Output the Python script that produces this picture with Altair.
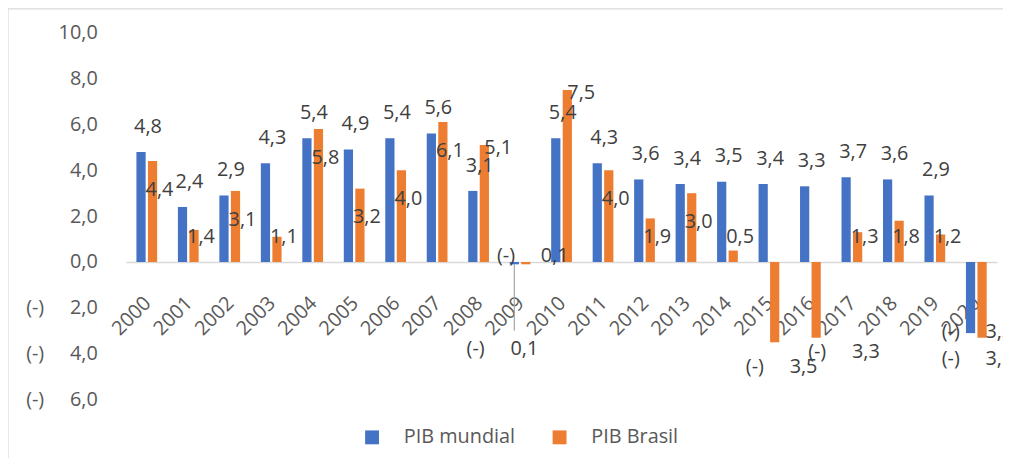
import altair as alt
import pandas as pd

anos = [str(a) for a in range(2000, 2021)]
pib_mundial = [4.8, 2.4, 2.9, 4.3, 5.4, 4.9, 5.4, 5.6, 3.1, -0.1, 5.4, 4.3, 3.6, 3.4, 3.5, 3.4, 3.3, 3.7, 3.6, 2.9, -3.1]
pib_brasil = [4.4, 1.4, 3.1, 1.1, 5.8, 3.2, 4.0, 6.1, 5.1, -0.1, 7.5, 4.0, 1.9, 3.0, 0.5, -3.5, -3.3, 1.3, 1.8, 1.2, -3.3]
series = ["PIB mundial", "PIB Brasil"]
cores = ["#4472C4", "#ED7D31"]
y_ticks = [-6, -4, -2, 0, 2, 4, 6, 8, 10]

rows = []
for i, a in enumerate(anos):
    prev_b = pib_brasil[i - 1] if i > 0 else 0
    rows.append({"ano": a, "serie": series[0], "valor": pib_mundial[i],
                 "mundial": pib_mundial[i], "prev": prev_b})
    rows.append({"ano": a, "serie": series[1], "valor": pib_brasil[i],
                 "mundial": pib_mundial[i], "prev": prev_b})
df = pd.DataFrame(rows)

NB = "\u00a0" * 5
fmt_val = "replace(format(abs({v}), '.1f'), '.', ',')"
label_expr = ("datum.value < 0 ? '(-)" + NB + "' + " + fmt_val.format(v="datum.value")
              + " : " + fmt_val.format(v="datum.value"))
text_expr = ("datum.valor < 0 ? '(-)" + NB + "' + " + fmt_val.format(v="datum.valor")
             + " : " + fmt_val.format(v="datum.valor"))

# label placement rules (Excel-like collision avoidance), derived from the values
grp_expr = ("datum.serie == 'PIB mundial' ? (abs(datum.valor) < 0.5 ? 'lead' : 'n') : "
            "(abs(datum.valor) < 0.5 ? 'n' : "
            "(datum.valor < 0 && datum.mundial < 0 ? 'stack' : "
            "(datum.valor < 0 && datum.prev < 0 ? 'shift' : "
            "(datum.valor >= datum.mundial + 1.5 ? 'top' : 'n'))))")
ly_expr = ("datum.grp == 'lead' ? datum.valor - 3.7 : "
           "datum.grp == 'stack' ? datum.mundial + 0.05 : "
           "datum.grp == 'shift' ? datum.valor - 0.63 : "
           "datum.grp == 'top' ? datum.valor - 0.15 : "
           "datum.serie == 'PIB mundial' ? (datum.valor >= 0 ? datum.valor + 1.1 : datum.valor - 1.15) : "
           "(abs(datum.valor) < 0.5 ? datum.valor + 0.37 : "
           "(datum.valor < 0 ? datum.valor - 1.1 : max(datum.valor - 1.25, 1.08)))")
so_expr = "datum.grp == 'stack' ? 'PIB mundial' : datum.serie"

font = "Open Sans"
x_axis = alt.Axis(title=None, labelAngle=-45, offset=-138.75, ticks=False, labelPadding=31,
                  labelOffset=-6, domainColor="#d9d9d9", domainWidth=1.5, labelFontSize=20,
                  labelColor="#595959", labelFont=font)
y_axis = alt.Axis(title=None, values=y_ticks, labelExpr=label_expr, domain=False, ticks=False,
                  grid=False, labelPadding=29, labelFontSize=20, labelColor="#595959",
                  labelFont=font)
x_scale = alt.Scale(paddingInner=0.5, paddingOuter=0.25)
xo_scale = alt.Scale(domain=series, paddingInner=0.2)
y_scale = alt.Scale(domain=[-6, 10], nice=False, zero=True)

base = alt.Chart(df)
bars = base.mark_bar().encode(
    x=alt.X("ano:N", sort=anos, scale=x_scale, axis=x_axis),
    xOffset=alt.XOffset("serie:N", sort=series, scale=xo_scale),
    y=alt.Y("valor:Q", scale=y_scale, axis=y_axis),
    color=alt.Color("serie:N", sort=series, scale=alt.Scale(domain=series, range=cores),
                    legend=alt.Legend(orient="none", legendX=238, legendY=398,
                                      direction="horizontal", title=None,
                                      symbolType="square", symbolSize=196,
                                      symbolStrokeWidth=0, labelFontSize=20,
                                      labelColor="#595959", labelFont=font,
                                      labelOffset=22, columnPadding=34)),
)

lab_base = base.transform_calculate(grp=grp_expr).transform_calculate(
    ly=ly_expr, lt=text_expr, so=so_expr)
enc = dict(
    x=alt.X("ano:N", sort=anos, scale=x_scale, axis=x_axis),
    xOffset=alt.XOffset("so:N", sort=series, scale=xo_scale),
    y=alt.Y("ly:Q", scale=y_scale, axis=y_axis),
    text="lt:N",
)


def label_layer(groups, dx):
    cond = " || ".join("datum.grp == '%s'" % g for g in groups)
    return lab_base.transform_filter(cond).mark_text(
        fontSize=20, color="#404040", dx=dx, baseline="middle", font=font).encode(**enc)


labels_n = label_layer(["n", "stack"], 7)
labels_top = label_layer(["top"], 14)
labels_shift = label_layer(["shift"], 28)
labels_lead = label_layer(["lead"], -12)

leader = lab_base.transform_filter("datum.grp == 'lead'").mark_rule(
    color="#a6a6a6", strokeWidth=1.2).encode(
    x=alt.X("ano:N", sort=anos, scale=x_scale, axis=x_axis),
    xOffset=alt.XOffset("serie:N", sort=series, scale=xo_scale),
    y=alt.Y("valor:Q", scale=y_scale, axis=y_axis),
    y2=alt.Y2("lead_end:Q"),
).transform_calculate(lead_end="datum.ly + 0.8")

frame_df = pd.DataFrame({"k": [0]})
top_border = alt.Chart(frame_df).mark_rule(color="#d9d9d9", strokeWidth=1.2).encode(
    x=alt.value(-119), x2=alt.value(884), y=alt.value(-24))
left_border = alt.Chart(frame_df).mark_rule(color="#d9d9d9", strokeWidth=1.2).encode(
    x=alt.value(-119), y=alt.value(-24), y2=alt.value(430))

chart = alt.layer(top_border, left_border, leader, bars, labels_n, labels_top,
                  labels_shift, labels_lead).properties(
    width=878, height=370,
    autosize=alt.AutoSizeParams(type="none"),
    padding={"left": 119, "top": 23, "right": 6, "bottom": 57},
).configure(font=font).configure_view(stroke=None)

chart.save("out.html", embed_options={"renderer": "svg", "actions": False})
